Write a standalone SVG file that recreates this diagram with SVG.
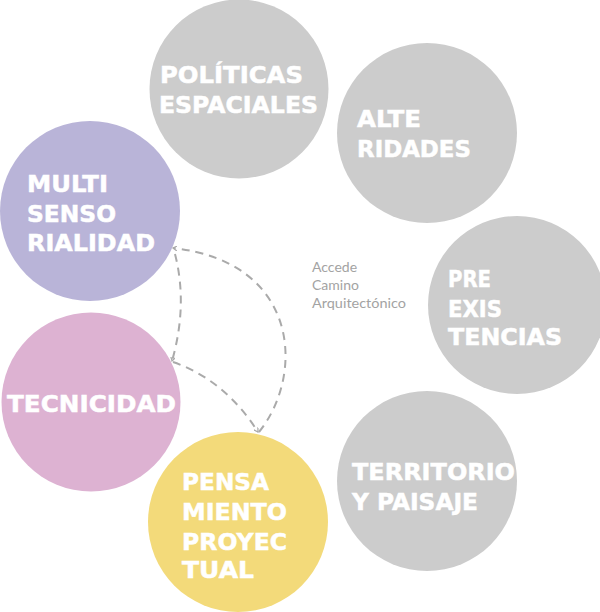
<svg xmlns="http://www.w3.org/2000/svg" width="600" height="612" viewBox="0 0 600 612">
<style>
.gray{fill:#cccccc}
.lbl{font-family:"DejaVu Sans",sans-serif;font-weight:bold;font-size:23px;fill:#ffffff;stroke:#ffffff;stroke-width:0.5}
.note{font-family:"Lato","Open Sans",sans-serif;font-size:14px;fill:#a3a3a3}
.dash{fill:none;stroke:#aaaaaa;stroke-width:2;stroke-dasharray:8 6}
</style>
<defs>
<marker id="arr" viewBox="0 0 6 6" refX="5" refY="3" markerWidth="5" markerHeight="5" orient="auto" markerUnits="userSpaceOnUse">
<path d="M0,0 L5,3 L0,6" fill="none" stroke="#aaaaaa" stroke-width="1.5"/>
</marker>
</defs>
<rect width="600" height="612" fill="#ffffff"/>
<g id="politicas">
<circle class="gray" cx="239" cy="89" r="89.5"/>
<text class="lbl" x="160" y="83" textLength="143" lengthAdjust="spacingAndGlyphs">POLÍTICAS</text>
<text class="lbl" x="159" y="113" textLength="159" lengthAdjust="spacingAndGlyphs">ESPACIALES</text>
</g>
<g id="alteridades">
<circle class="gray" cx="427" cy="133" r="90"/>
<text class="lbl" x="357" y="127" textLength="64" lengthAdjust="spacingAndGlyphs">ALTE</text>
<text class="lbl" x="357" y="157" textLength="114" lengthAdjust="spacingAndGlyphs">RIDADES</text>
</g>
<g id="preexistencias">
<circle class="gray" cx="517" cy="305" r="89"/>
<text class="lbl" x="448" y="287" textLength="43" lengthAdjust="spacingAndGlyphs">PRE</text>
<text class="lbl" x="448" y="317" textLength="54" lengthAdjust="spacingAndGlyphs">EXIS</text>
<text class="lbl" x="448" y="345" textLength="114" lengthAdjust="spacingAndGlyphs">TENCIAS</text>
</g>
<g id="territorio">
<circle class="gray" cx="427" cy="481" r="90"/>
<text class="lbl" x="352" y="480" textLength="163" lengthAdjust="spacingAndGlyphs">TERRITORIO</text>
<text class="lbl" x="352" y="510" textLength="126" lengthAdjust="spacingAndGlyphs">Y PAISAJE</text>
</g>
<g id="multisensorialidad">
<circle cx="90" cy="211" r="90" fill="#b9b4d8"/>
<text class="lbl" x="27" y="192" textLength="81" lengthAdjust="spacingAndGlyphs">MULTI</text>
<text class="lbl" x="27" y="222" textLength="89" lengthAdjust="spacingAndGlyphs">SENSO</text>
<text class="lbl" x="27" y="251" textLength="128" lengthAdjust="spacingAndGlyphs">RIALIDAD</text>
</g>
<g id="tecnicidad">
<circle cx="91" cy="402" r="89.5" fill="#ddb2d2"/>
<text class="lbl" x="7" y="412" textLength="169" lengthAdjust="spacingAndGlyphs">TECNICIDAD</text>
</g>
<g id="pensamiento">
<circle cx="238" cy="522" r="90" fill="#f3da7a"/>
<text class="lbl" x="182" y="490" textLength="87" lengthAdjust="spacingAndGlyphs">PENSA</text>
<text class="lbl" x="182" y="520" textLength="105" lengthAdjust="spacingAndGlyphs">MIENTO</text>
<text class="lbl" x="182" y="550" textLength="105" lengthAdjust="spacingAndGlyphs">PROYEC</text>
<text class="lbl" x="182" y="578" textLength="72" lengthAdjust="spacingAndGlyphs">TUAL</text>
</g>
<g id="connectors">
<path class="dash" d="M175,254 Q188,305 172,361" marker-end="url(#arr)"/>
<path class="dash" d="M173,362 Q225,380 258,432" marker-end="url(#arr)"/>
<path class="dash" d="M259,432 C305,375 300,262 173,248" marker-end="url(#arr)"/>
</g>
<g id="note">
<text class="note" x="312" y="272">Accede</text>
<text class="note" x="312" y="290">Camino</text>
<text class="note" x="312" y="308" textLength="94" lengthAdjust="spacingAndGlyphs">Arquitectónico</text>
</g>
</svg>
